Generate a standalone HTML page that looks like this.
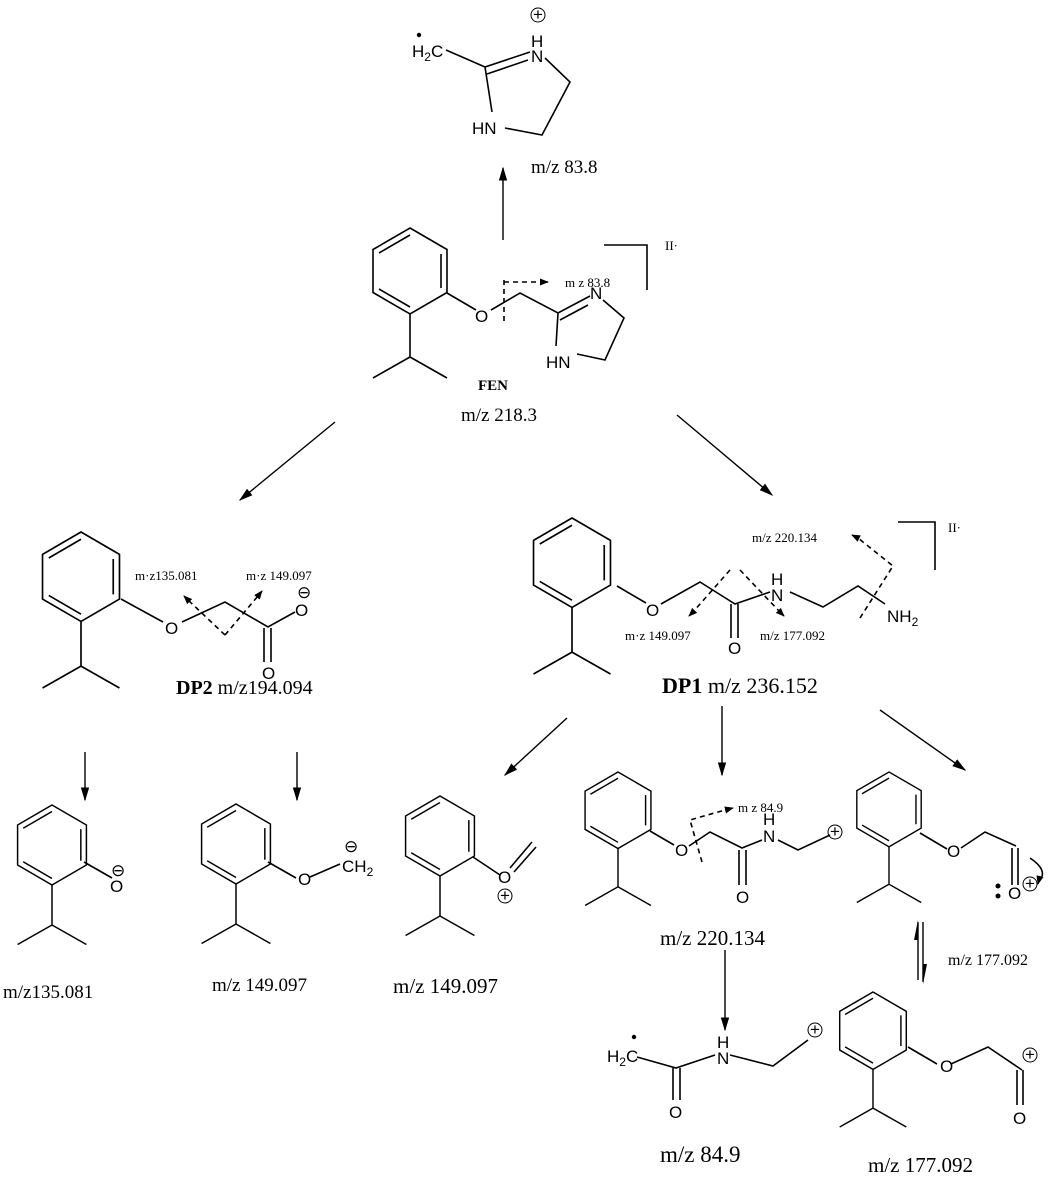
<!DOCTYPE html>
<html><head><meta charset="utf-8"><style>
html,body{margin:0;padding:0;background:#fff;}
svg{display:block;}
.a{font-family:"Liberation Sans",sans-serif;font-size:17px;fill:#000;}
.s{font-family:"Liberation Serif",serif;font-size:19px;fill:#000;}
.t{font-family:"Liberation Serif",serif;font-size:13px;fill:#000;}
.b{font-family:"Liberation Serif",serif;font-size:19px;font-weight:bold;fill:#000;}
</style></head><body>
<svg width="1052" height="1182" viewBox="0 0 1052 1182" xmlns="http://www.w3.org/2000/svg">
<defs>
<marker id="ah" viewBox="0 0 10 10" refX="9" refY="5" markerWidth="9" markerHeight="9" orient="auto" markerUnits="userSpaceOnUse"><path d="M0,1 L10,5 L0,9 Z" fill="#000"/></marker>
<marker id="ah2" viewBox="0 0 10 10" refX="9" refY="5" markerWidth="14" markerHeight="14" orient="auto" markerUnits="userSpaceOnUse"><path d="M0,2 L10,5 L0,8 Z" fill="#000"/></marker>
<g id="ar" fill="none" stroke="#000" stroke-width="1.6">
<path d="M0,0 L37,21.5 L37,64.5 L0,86 L-37,64.5 L-37,21.5 Z"/>
<path d="M-31,25 L0,7 M31,26 L31,60 M-31,61 L0,79"/>
<path d="M0,86 L0,129 M0,129 L-37,150 M0,129 L37,150"/>
</g>
</defs>
<g stroke="#000" stroke-width="1.6" fill="none">
<!-- top product -->
<path d="M446,50 L485,67 L530,52 M487,74 L528,60 M545,58 L570,82 L542,135 L505,128 M492,112 L485,67"/>
<!-- FEN -->
<path d="M447,293 L476,310 M491,310 L520,293 L558,313 L590,296 M560,320 L588,305 M603,300 L624,318 L605,360 L577,354 M556,346 L558,313"/>
<path d="M504,280 L504,322 M504,282 L540,282" stroke-dasharray="5,4"/>
<path d="M604,245 L647,245 L647,290"/>
<!-- DP2 -->
<path d="M121,599 L163,622 M182,622 L225,602 L268,627 L295,612 M264,628 L264,662 M271,628 L271,662"/>
<path d="M225,635 L188,600 M225,635 L258,596" stroke-dasharray="5,4"/>
<!-- DP1 -->
<path d="M617,586 L646,603 M661,604 L700,582 L735,604 L770,592 M731,604 L731,638 M738,604 L738,638 M790,592 L823,607 L858,586 L885,604"/>
<path d="M730,570 L693,612 M740,570 L780,612 M860,618 L893,566 L858,538" stroke-dasharray="5,4"/>
<path d="M898,522 L935,522 L935,570"/>
<!-- bottom 135 -->
<path d="M84,862 L112,878"/>
<!-- bottom 149 -->
<path d="M268,862 L296,878 M310,877 L340,864"/>
<!-- 149b -->
<path d="M473,857 L500,875 M510,868 L532,842 M514,872 L536,847"/>
<!-- 220 -->
<path d="M650,831 L674,845 M689,846 L710,832 L742,848 L762,840 M739,850 L739,885 M746,850 L746,885 M778,840 L798,850 L830,835"/>
<path d="M702,862 L690,820 L725,810" stroke-dasharray="5,4"/>
<!-- right top -->
<path d="M920,833 L947,849 M961,848 L985,832 L1016,846 M1012,848 L1012,885 M1018,848 L1018,885"/>
<path d="M1030,858 Q1048,870 1040,880" />
<!-- bottom right -->
<path d="M908,1047 L937,1064 M951,1064 L988,1047 L1022,1070 M1017,1070 L1017,1105 M1023,1070 L1023,1105"/>
<!-- 84.9 -->
<path d="M637,1057 L676,1068 L715,1055 M673,1068 L673,1100 M680,1068 L680,1100 M730,1055 L773,1066 L808,1040"/>
</g>
<!-- rings -->
<use href="#ar" transform="translate(410,228)"/>
<use href="#ar" transform="translate(81,532) scale(1.04)"/>
<use href="#ar" transform="translate(572,518) scale(1.04)"/>
<use href="#ar" transform="translate(52,805) scale(0.93)"/>
<use href="#ar" transform="translate(236,804) scale(0.93)"/>
<use href="#ar" transform="translate(440,796) scale(0.93)"/>
<use href="#ar" transform="translate(618,772) scale(0.89)"/>
<use href="#ar" transform="translate(889,772) scale(0.87)"/>
<use href="#ar" transform="translate(873,992) scale(0.9)"/>
<!-- arrows -->
<g stroke="#000" stroke-width="1.4" fill="none">
<path d="M503,240 L503,168" marker-end="url(#ah2)"/>
<path d="M335,422 L240,500" marker-end="url(#ah2)"/>
<path d="M677,415 L772,495" marker-end="url(#ah2)"/>
<path d="M85,752 L85,800" marker-end="url(#ah2)"/>
<path d="M297,752 L297,800" marker-end="url(#ah2)"/>
<path d="M567,718 L505,775" marker-end="url(#ah2)"/>
<path d="M722,706 L722,775" marker-end="url(#ah2)"/>
<path d="M880,710 L965,770" marker-end="url(#ah2)"/>
<path d="M725,950 L725,1030" marker-end="url(#ah2)"/>
<path d="M918,980 L918,922 M923,922 L923,982"/>
<path d="M540,282 L548,282" marker-end="url(#ah)"/>
<path d="M188,600 L184,596" marker-end="url(#ah)"/>
<path d="M258,596 L262,591" marker-end="url(#ah)"/>
<path d="M693,612 L689,616" marker-end="url(#ah)"/>
<path d="M780,612 L784,616" marker-end="url(#ah)"/>
<path d="M858,538 L852,535" marker-end="url(#ah)"/>
<path d="M725,810 L733,808" marker-end="url(#ah)"/>
<path d="M1040,876 L1038,884" marker-end="url(#ah)"/>
</g>
<path d="M918,920 L914,940 L918,940 Z M923,984 L927,964 L923,964 Z" fill="#000"/>
<!-- top product labels -->
<text class="a" x="412" y="57">H<tspan font-size="12" dy="4">2</tspan><tspan dy="-4">C</tspan></text>
<circle cx="419" cy="35" r="2.2" fill="#000"/>
<text class="a" x="531" y="47">H</text><text class="a" x="531" y="62">N</text>
<circle cx="538" cy="15" r="7" fill="none" stroke="#000" stroke-width="1"/><text class="a" x="533" y="20" font-size="12">+</text>
<text class="a" x="472" y="134">HN</text>
<text class="s" x="531" y="173">m/z 83.8</text>
<!-- FEN labels -->
<text class="a" x="475" y="322">O</text>
<text class="a" x="590" y="299">N</text>
<text class="a" x="546" y="368">HN</text>
<text class="t" x="565" y="287">m z 83.8</text>
<text class="t" x="665" y="250">II·</text>
<text class="b" x="478" y="390" style="font-size:15px">FEN</text>
<text class="s" x="461" y="421">m/z 218.3</text>
<!-- DP2 labels -->
<text class="a" x="165" y="634">O</text>
<text class="a" x="295" y="616">O</text>
<text class="a" x="297" y="598" font-size="11">⊖</text>
<text class="a" x="262" y="679">O</text>
<text class="t" x="135" y="580">m·z135.081</text>
<text class="t" x="246" y="580">m·z 149.097</text>
<text class="s" x="176" y="694" style="font-size:20px"><tspan font-weight="bold">DP2</tspan> m/z194.094</text>
<!-- DP1 labels -->
<text class="a" x="646" y="616">O</text>
<text class="a" x="771" y="585">H</text><text class="a" x="771" y="601">N</text>
<text class="a" x="728" y="654">O</text>
<text class="a" x="887" y="622">NH<tspan font-size="12" dy="4">2</tspan></text>
<text class="t" x="752" y="542">m/z 220.134</text>
<text class="t" x="625" y="640">m·z 149.097</text>
<text class="t" x="760" y="640">m/z 177.092</text>
<text class="t" x="948" y="532">II·</text>
<text class="s" x="662" y="693" style="font-size:22px"><tspan font-weight="bold">DP1</tspan>  m/z 236.152</text>
<!-- bottom labels -->
<text class="a" x="110" y="892">O</text>
<text class="a" x="111" y="876" font-size="12">⊖</text>
<text class="s" x="3" y="998">m/z135.081</text>
<text class="a" x="298" y="885">O</text>
<text class="a" x="342" y="872">CH<tspan font-size="12" dy="4">2</tspan></text>
<text class="a" x="344" y="852" font-size="12">⊖</text>
<text class="s" x="212" y="991">m/z 149.097</text>
<text class="a" x="498" y="883">O</text>
<circle cx="505" cy="896" r="7" fill="none" stroke="#000" stroke-width="1"/><text class="a" x="500" y="901" font-size="12">+</text>
<text class="s" x="393" y="993" style="font-size:21px">m/z 149.097</text>
<text class="a" x="675" y="856">O</text>
<text class="a" x="763" y="825">H</text><text class="a" x="763" y="842">N</text>
<text class="a" x="736" y="903">O</text>
<circle cx="835" cy="832" r="7" fill="none" stroke="#000" stroke-width="1"/><text class="a" x="830" y="837" font-size="12">+</text>
<text class="t" x="738" y="812">m z 84.9</text>
<text class="s" x="660" y="945" style="font-size:21px">m/z 220.134</text>
<text class="a" x="947" y="857">O</text>
<text class="a" x="1008" y="899">O</text>
<circle cx="998" cy="886" r="2.5" fill="#000"/><circle cx="998" cy="896" r="2.5" fill="#000"/>
<circle cx="1030" cy="884" r="7" fill="none" stroke="#000" stroke-width="1"/><text class="a" x="1025" y="889" font-size="12">+</text>
<text class="s" x="948" y="965" style="font-size:16px">m/z 177.092</text>
<text class="a" x="940" y="1072">O</text>
<text class="a" x="1013" y="1124">O</text>
<circle cx="1030" cy="1055" r="7" fill="none" stroke="#000" stroke-width="1"/><text class="a" x="1025" y="1060" font-size="12">+</text>
<text class="s" x="868" y="1172" style="font-size:21px">m/z 177.092</text>
<text class="a" x="607" y="1062">H<tspan font-size="12" dy="4">2</tspan><tspan dy="-4">C</tspan></text>
<circle cx="634" cy="1037" r="2.2" fill="#000"/>
<text class="a" x="717" y="1048">H</text><text class="a" x="717" y="1064">N</text>
<text class="a" x="669" y="1118">O</text>
<circle cx="815" cy="1030" r="7" fill="none" stroke="#000" stroke-width="1"/><text class="a" x="810" y="1035" font-size="12">+</text>
<text class="s" x="660" y="1162" style="font-size:23px">m/z 84.9</text>
</svg>
</body></html>
